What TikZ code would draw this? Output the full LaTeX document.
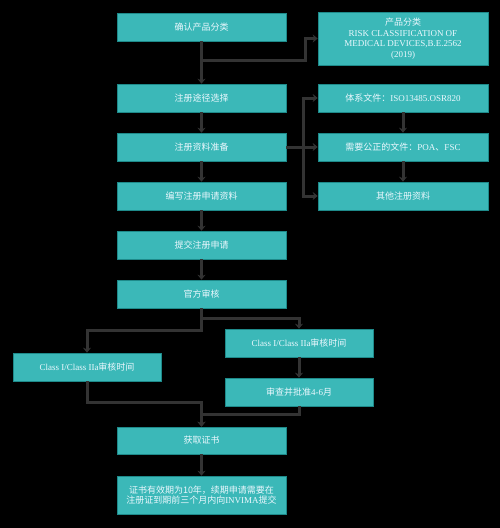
\documentclass[tikz,border=0pt]{standalone}
\usepackage{fontspec}
\setmainfont{Liberation Serif}
\newfontfamily\cjk{Noto Sans CJK SC}
\usetikzlibrary{arrows.meta}
\definecolor{boxfill}{HTML}{3BB8B8}
\definecolor{boxline}{HTML}{1E8A8A}
\definecolor{connc}{HTML}{333333}
\begin{document}
\begin{tikzpicture}[x=1pt,y=-1pt,
 box/.style={draw=boxline,fill=boxfill,line width=0.6pt,text=white!92!cyan,font=\fontsize{9}{10.5}\selectfont,align=center,inner sep=0pt,minimum width=169pt,minimum height=28pt},
 conn/.style={draw=connc,line width=3pt,-{Stealth[length=5pt,width=8pt]}}]
\useasboundingbox (0,0) rectangle (500,528);
\fill[black] (0,0) rectangle (500,528);
% main column
\node[box] (b1) at (201.5,27) {\cjk 确认产品分类};
\node[box] (b2) at (201.5,98) {\cjk 注册途径选择};
\node[box] (b3) at (201.5,147) {\cjk 注册资料准备};
\node[box] (b4) at (201.5,196) {\cjk 编写注册申请资料};
\node[box] (b5) at (201.5,245) {\cjk 提交注册申请};
\node[box] (b6) at (201.5,294) {\cjk 官方审核};
\node[box,minimum height=27pt] (b7) at (201.5,440.5) {\cjk 获取证书};
\node[box,minimum height=38pt] (b8) at (201.5,495) {{\cjk 证书有效期为10年，续期申请需要在}\\{\cjk 注册证到期前三个月内向}INVIMA{\cjk 提交}};
% right column
\node[box,minimum width=170pt,minimum height=53pt] (r1) at (403,38.5) {{\cjk 产品分类}\\RISK CLASSIFICATION OF\\MEDICAL DEVICES,B.E.2562\\(2019)};
\node[box,minimum width=170pt] (r2) at (403,98) {{\cjk 体系文件：}ISO13485.OSR820};
\node[box,minimum width=170pt] (r3) at (403,147) {{\cjk 需要公正的文件：}POA{\cjk 、}FSC};
\node[box,minimum width=170pt] (r4) at (403,196) {\cjk 其他注册资料};
% class branch
\node[box,minimum width=148pt] (cl) at (87,367) {Class I/Class IIa{\cjk 审核时间}};
\node[box,minimum width=148pt] (cr) at (299,343) {Class I/Class IIa{\cjk 审核时间}};
\node[box,minimum width=148pt] (ca) at (299,392) {{\cjk 审查并批准}4-6{\cjk 月}};
% connectors
\draw[conn] (b1) -- (b2);
\draw[conn] (b1.south) -- ++(0,19) -| ([xshift=-12pt]r1.west) -- (r1.west);
\draw[conn] (b2) -- (b3);
\draw[conn] (b3) -- (b4);
\draw[conn] (b4) -- (b5);
\draw[conn] (b5) -- (b6);
\draw[conn] (b3.east) -- ++(17,0) |- (r2.west);
\draw[conn] (b3.east) -- (r3.west);
\draw[conn] (b3.east) -- ++(17,0) |- (r4.west);
\draw[conn] (r2) -- (r3);
\draw[conn] (r3) -- (r4);
\draw[conn] (b6.south) -- ++(0,10) -| (cr.north);
\draw[conn] (b6.south) -- ++(0,22) -| (cl.north);
\draw[conn] (cr) -- (ca);
\draw[conn] (cl.south) -- ++(0,21) -| (b7.north);
\draw[conn] (ca.south) -- ++(0,8) -| (b7.north);
\draw[conn] (b7) -- (b8);
\end{tikzpicture}
\end{document}
